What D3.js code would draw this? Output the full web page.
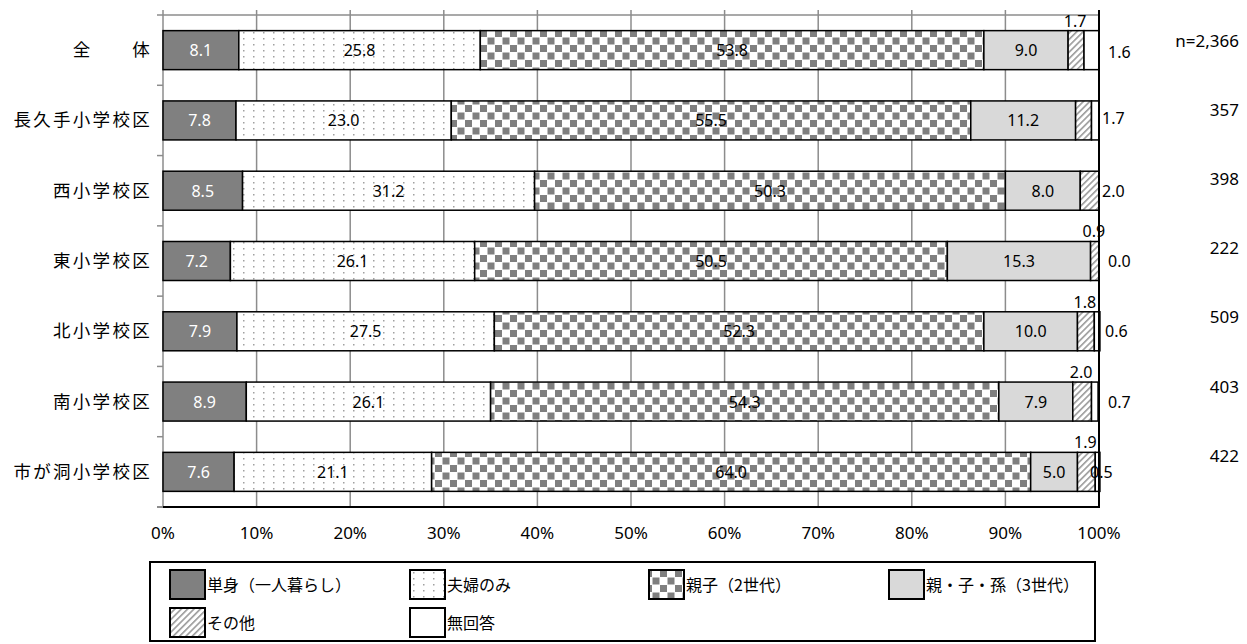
<!DOCTYPE html>
<html><head><meta charset="utf-8">
<script src="https://cdn.jsdelivr.net/npm/d3@7"></script>
<style>
body{margin:0;background:#fff;}
text{font-family:"Noto Sans","Noto Sans CJK JP",sans-serif;}
.jp{font-family:"Noto Sans CJK JP","Noto Sans",sans-serif;}
</style></head>
<body><svg id="c" width="1247" height="644"></svg>
<script>
const categories = ["全　　体","長久手小学校区","西小学校区","東小学校区","北小学校区","南小学校区","市が洞小学校区"];
const seriesNames = ["単身（一人暮らし）","夫婦のみ","親子（2世代）","親・子・孫（3世代）","その他","無回答"];
const tanshin  = [8.1,7.8,8.5,7.2,7.9,8.9,7.6];
const fufu     = [25.8,23.0,31.2,26.1,27.5,26.1,21.1];
const oyako    = [53.8,55.5,50.3,50.5,52.3,54.3,64.0];
const sansedai = [9.0,11.2,8.0,15.3,10.0,7.9,5.0];
const sonota   = [1.7,1.7,2.0,0.9,1.8,2.0,1.9];
const mukaitou = [1.6,0.8,0.0,0.0,0.6,0.7,0.5];
const topLabels   = ["1.7",null,null,"0.9","1.8","2.0","1.9"];
const rightLabels = ["1.6","1.7","2.0","0.0","0.6","0.7","0.5"];
const nLabels = ["n=2,366","357","398","222","509","403","422"];
const xTicks = [0,10,20,30,40,50,60,70,80,90,100];

const svg = d3.select("#c");
const defs = svg.append("defs");
const pDots = defs.append("pattern").attr("id","dots").attr("patternUnits","userSpaceOnUse").attr("width",10).attr("height",6);
pDots.append("rect").attr("width",10).attr("height",6).attr("fill","#fff");
pDots.append("rect").attr("x",3).attr("y",2).attr("width",1.5).attr("height",1.5).attr("fill","#a0a0a0");
const pChk = defs.append("pattern").attr("id","chk").attr("patternUnits","userSpaceOnUse").attr("width",15).attr("height",15);
pChk.append("rect").attr("width",15).attr("height",15).attr("fill","#fff");
pChk.append("rect").attr("x",0).attr("y",0).attr("width",7).attr("height",7).attr("fill","#7f7f7f");
pChk.append("rect").attr("x",7.5).attr("y",7.5).attr("width",7).attr("height",7).attr("fill","#7f7f7f");
const pHatch = defs.append("pattern").attr("id","hatch").attr("patternUnits","userSpaceOnUse").attr("width",4.5).attr("height",4.5).attr("patternTransform","rotate(45)");
pHatch.append("rect").attr("width",4.5).attr("height",4.5).attr("fill","#fff");
pHatch.append("rect").attr("x",0).attr("y",0).attr("width",1.6).attr("height",4.5).attr("fill","#9a9a9a");

const fills = ["#808080","url(#dots)","url(#chk)","#d9d9d9","url(#hatch)","#fff"];
const textFill = ["#fff","#000","#000","#000","#000","#000"];
const series = [tanshin,fufu,oyako,sansedai,sonota,mukaitou];

const x0 = 163, x1 = 1099, yTop = 15, yBot = 507;
const x = d3.scaleLinear().domain([0,100]).range([x0,x1]);
const y = d3.scaleBand().domain(categories).range([yTop,yBot]).paddingInner(0.445).paddingOuter(0.2225);
const step = y.step();

svg.append("g").selectAll("line").data(xTicks.slice(1,-1)).join("line")
  .attr("x1",d=>x(d)).attr("x2",d=>x(d)).attr("y1",yTop-5).attr("y2",yBot)
  .attr("stroke","#8c8c8c").attr("stroke-width",1.5);
svg.append("line").attr("x1",x0).attr("x2",x1).attr("y1",yTop).attr("y2",yTop).attr("stroke","#8c8c8c").attr("stroke-width",1.5);
svg.append("line").attr("x1",x0).attr("x2",x0).attr("y1",yTop-5).attr("y2",yBot).attr("stroke","#8c8c8c").attr("stroke-width",1.5);
const bounds = d3.range(categories.length+1).map(i=>yTop+i*step);
svg.append("g").selectAll("line").data(bounds).join("line")
  .attr("x1",x0-6).attr("x2",x0).attr("y1",d=>d).attr("y2",d=>d)
  .attr("stroke","#8c8c8c").attr("stroke-width",1.5);

const rows = categories.map((c,i)=>{
  let acc=0;
  return series.map((s,k)=>{const a=acc; acc+=s[i]; return {cat:c,k,v:s[i],a,b:acc};});
});
const gBars = svg.append("g");
rows.forEach(r=>{
  gBars.selectAll(null).data(r.filter(d=>d.v>0)).join("rect")
    .attr("x",d=>x(d.a)).attr("width",d=>x(d.b)-x(d.a))
    .attr("y",d=>y(d.cat)).attr("height",y.bandwidth())
    .attr("fill",d=>fills[d.k]).attr("stroke","#000").attr("stroke-width",1.5);
});
rows.forEach(r=>{
  gBars.selectAll(null).data(r.slice(0,4)).join("text")
    .attr("x",d=>x((d.a+d.b)/2)).attr("y",d=>y(d.cat)+y.bandwidth()/2+6)
    .attr("text-anchor","middle").attr("font-size",16).attr("fill",d=>textFill[d.k])
    .text(d=>d.v.toFixed(1));
});
rows.forEach((r,i)=>{
  if(!topLabels[i]) return;
  const d=r[4];
  svg.append("text").attr("x",x((d.a+d.b)/2)-1).attr("y",y(d.cat)-4)
    .attr("text-anchor","middle").attr("font-size",16).text(topLabels[i]);
});
rows.forEach((r,i)=>{
  const last = i===categories.length-1;
  svg.append("text").attr("x",last? x(100)-9 : x(100)+ (i===1||i===2?3:(i===4?6:9)))
    .attr("y",y(categories[i])+y.bandwidth()/2+6+(i===0?2:0)+(i===1?-2:0))
    .attr("font-size",16).text(rightLabels[i]);
});

svg.append("line").attr("x1",x1).attr("x2",x1).attr("y1",yTop-5).attr("y2",yBot).attr("stroke","#000").attr("stroke-width",2);
svg.append("line").attr("x1",x0).attr("x2",x1+1).attr("y1",yBot).attr("y2",yBot).attr("stroke","#000").attr("stroke-width",2);
svg.append("line").attr("x1",x0-6).attr("x2",x0).attr("y1",yBot).attr("y2",yBot).attr("stroke","#8c8c8c").attr("stroke-width",2);

svg.append("g").selectAll("text").data(categories).join("text").attr("class","jp")
  .attr("x",152).attr("y",d=>y(d)+y.bandwidth()/2+6)
  .attr("text-anchor","end").attr("font-size",17.5).attr("letter-spacing",2.3).text(d=>d);

svg.append("g").selectAll("text").data(xTicks).join("text")
  .attr("x",d=>x(d)).attr("y",539).attr("text-anchor","middle").attr("font-size",17).text(d=>d+"%");

svg.append("g").selectAll("text").data(nLabels).join("text")
  .attr("x",1239).attr("y",(d,i)=>y(categories[i])+y.bandwidth()/2-3-i*1.2)
  .attr("text-anchor","end").attr("font-size",17).text(d=>d);

const lg = svg.append("g");
lg.append("rect").attr("x",150).attr("y",562).attr("width",945).attr("height",79).attr("fill","none").attr("stroke","#000").attr("stroke-width",2);
const legPos = [[170,570],[410,570],[649,570],[889,570],[170,608],[410,608]];
seriesNames.forEach((n,k)=>{
  const [lx,ly]=legPos[k];
  lg.append("rect").attr("x",lx).attr("y",ly).attr("width",35).attr("height",29).attr("fill",fills[k]).attr("stroke","#000").attr("stroke-width",2);
  lg.append("text").attr("class","jp").attr("x",lx+37).attr("y",ly+21).attr("font-size",16).text(n);
});
</script></body></html>
